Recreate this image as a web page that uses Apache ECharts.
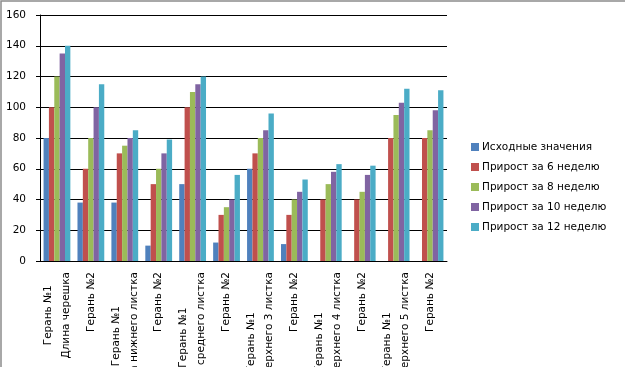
<!DOCTYPE html>
<html>
<head>
<meta charset="utf-8">
<script src="https://cdn.jsdelivr.net/npm/echarts@6/dist/echarts.min.js"></script>
<style>
  html, body { margin: 0; padding: 0; background: #fff; }
  #main { width: 625px; height: 367px; }
</style>
</head>
<body>
<div id="main"></div>
<script>
const plants = ["Герань №1", "Герань №2", "Герань №1", "Герань №2", "Герань №1", "Герань №2",
  "Герань №1", "Герань №2", "Герань №1", "Герань №2", "Герань №1", "Герань №2"];
const groups = ["Длина черешка", "", "Длина нижнего листка", "", "Длина среднего листка", "",
  "Длина верхнего 3 листка", "", "Длина верхнего 4 листка", "", "Длина верхнего 5 листка", ""];

const seriesNames = ["Исходные значения", "Прирост за 6 неделю", "Прирост за 8 неделю",
  "Прирост за 10 неделю", "Прирост за 12 неделю"];
const initial = [80, 38, 38, 10, 50, 12, 60, 11, 0, 0, 0, 0];
const week6 = [100, 60, 70, 50, 100, 30, 70, 30, 40, 40, 80, 80];
const week8 = [120, 80, 75, 60, 110, 35, 80, 40, 50, 45, 95, 85];
const week10 = [135, 100, 80, 70, 115, 40, 85, 45, 58, 56, 103, 98];
const week12 = [140, 115, 85, 79, 120, 56, 96, 53, 63, 62, 112, 111];
const colors = ["#4F81BD", "#C0504D", "#9BBB59", "#8064A2", "#4BACC6"];

const categories = plants.map((p, i) => (groups[i] ? p + "\n" + groups[i] : p));
const font = "DejaVu Sans";

const myChart = echarts.init(document.getElementById("main"));

myChart.setOption({
  animation: false,
  color: colors,
  textStyle: { fontFamily: font },
  graphic: [
    {
      type: "rect",
      shape: { x: 1, y: 1, width: 800, height: 600 },
      style: { fill: null, stroke: "#8c8c8c", lineWidth: 1.5 },
      silent: true,
    },
  ],
  legend: {
    orient: "vertical",
    left: 471,
    top: 141,
    padding: 0,
    itemWidth: 8,
    itemHeight: 8,
    itemGap: 8,
    icon: "rect",
    textStyle: { fontFamily: font, fontSize: 10.5, lineHeight: 12, color: "#000", padding: [0, 0, 0, -2] },
    data: seriesNames,
  },
  grid: { left: 40, top: 15, width: 407, height: 246, outerBoundsMode: "none", containLabel: false },
  xAxis: {
    type: "category",
    data: categories,
    axisLine: { lineStyle: { color: "#000", width: 1 } },
    axisTick: { length: 5, alignWithLabel: false, interval: 0, lineStyle: { color: "#000" } },
    axisLabel: {
      interval: 0,
      rotate: 90,
      margin: 11,
      fontFamily: font,
      fontSize: 10.5,
      color: "#000",
      lineHeight: 18,
      hideOverlap: false,
      formatter: (v) => v.split("\n").map((s) => "{a|" + s + "}").join("\n"),
      rich: { a: { align: "center", fontFamily: font, fontSize: 10.5, color: "#000", lineHeight: 18 } },
    },
  },
  yAxis: {
    type: "value",
    min: 0,
    max: 160,
    interval: 20,
    axisLine: { show: true, lineStyle: { color: "#000" } },
    axisTick: { show: true, length: 4, lineStyle: { color: "#000" } },
    axisLabel: { fontFamily: font, fontSize: 10.5, color: "#000", margin: 14 },
    splitLine: { lineStyle: { color: "#000", width: 1 } },
  },
  series: [initial, week6, week8, week10, week12].map((d, i) => ({
    name: seriesNames[i],
    type: "bar",
    data: d,
    barGap: 0,
    barCategoryGap: "21%",
  })),
});
</script>
</body>
</html>
